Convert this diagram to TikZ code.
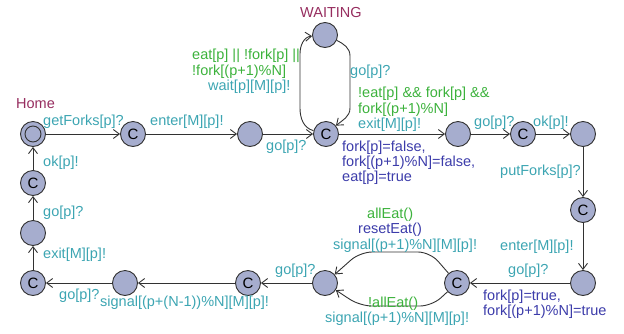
\documentclass[tikz,border=0pt]{standalone}
\usepackage{fontspec}
\setmainfont{Liberation Sans}
\usetikzlibrary{arrows.meta}
\definecolor{locfill}{RGB}{166,173,206}
\definecolor{locname}{RGB}{150,45,95}
\definecolor{synccol}{RGB}{60,165,178}
\definecolor{guardcol}{RGB}{60,178,60}
\definecolor{updcol}{RGB}{60,60,170}
\definecolor{edgecol}{RGB}{50,50,50}
\tikzset{
  loc/.style={circle,draw=edgecol,fill=locfill,line width=0.9pt,minimum size=25pt,inner sep=0pt},
  commit/.style={loc,font=\fontsize{15}{15}\selectfont},
  edge/.style={draw=edgecol,line width=0.9pt,-{Straight Barb[length=6pt,width=9pt,line width=0.9pt]}},
  lbl/.style={anchor=base west,inner sep=0pt,font=\fontsize{14.5}{16}\selectfont},
  sync/.style={lbl,text=synccol},
  guard/.style={lbl,text=guardcol},
  upd/.style={lbl,text=updcol,align=left},
  locnamelbl/.style={lbl,text=locname}
}
\begin{document}
\begin{tikzpicture}[x=1pt,y=-1pt]
\useasboundingbox (0,0) rectangle (624,333);

% locations
\node[loc] (home) at (33,134) {};
\draw[edgecol,line width=0.9pt] (home.center) circle (8pt);
\node[commit] (c1) at (133,134) {C};
\node[loc] (s2) at (250,134) {};
\node[commit] (c3) at (326,134) {C};
\node[loc] (wait) at (325,35) {};
\node[loc] (s4) at (458,134) {};
\node[commit] (c5) at (523,134) {C};
\node[loc] (s6) at (583,134) {};
\node[commit] (c7) at (583,210) {C};
\node[loc] (s8) at (583,283) {};
\node[commit] (c9) at (457,283) {C};
\node[loc] (s10) at (325,283) {};
\node[commit] (c11) at (248,283) {C};
\node[loc] (s12) at (125,283) {};
\node[commit] (c13) at (33,283) {C};
\node[loc] (s14) at (33,233) {};
\node[commit] (c15) at (33,183) {C};

% location names
\node[locnamelbl] (nhome) at (16,108) {Home};
\node[locnamelbl] (nwait) at (300,17) {WAITING};

% bend points of the curved edges
\coordinate (wl1) at (300,108);
\coordinate (wl2) at (300,54);
\coordinate (wr1) at (350,56);
\coordinate (wr2) at (350,108);
\coordinate (bu1) at (430,252);
\coordinate (bu2) at (360,252);
\coordinate (bl1) at (432,306);
\coordinate (bl2) at (360,306);

% edges
\draw[edge] (home) -- (c1);
\draw[edge] (c1) -- (s2);
\draw[edge] (s2) -- (c3);
\draw[edge] (c3) to[out=165,in=-90] (wl1) -- (wl2) to[out=90,in=185] (wait);
\draw[edge] (wait) to[out=-25,in=90] (wr1) -- (wr2) to[out=-90,in=40] (c3);
\draw[edge] (c3) -- (s4);
\draw[edge] (s4) -- (c5);
\draw[edge] (c5) -- (s6);
\draw[edge] (s6) -- (c7);
\draw[edge] (c7) -- (s8);
\draw[edge] (s8) -- (c9);
\draw[edge,rounded corners=12pt] (c9) -- (bu1) -- (bu2) -- (s10);
\draw[edge,rounded corners=12pt] (c9) -- (bl1) -- (bl2) -- (s10);
\draw[edge] (s10) -- (c11);
\draw[edge] (c11) -- (s12);
\draw[edge] (s12) -- (c13);
\draw[edge] (c13) -- (s14);
\draw[edge] (s14) -- (c15);
\draw[edge] (c15) -- (home);

% edge labels
\node[sync] (l1) at (43,125) {getForks[p]?};
\node[sync] (l2) at (150,125) {enter[M][p]!};
\node[sync] (l3) at (266,150) {go[p]?};
\node[guard] (l4a) at (192,59) {eat[p] || !fork[p] ||};
\node[guard] (l4b) at (192,75) {!fork[(p+1)\%N]};
\node[sync] (l4c) at (208,90) {wait[p][M][p]!};
\node[sync] (l5) at (350,75) {go[p]?};
\node[guard] (l6a) at (358,97) {!eat[p] \&\& fork[p] \&\&};
\node[guard] (l6b) at (358,113) {fork[(p+1)\%N]};
\node[sync] (l6c) at (358,128) {exit[M][p]!};
\node[upd] (l6d) at (342,151) {fork[p]=false,};
\node[upd] (l6e) at (342,166) {fork[(p+1)\%N]=false,};
\node[upd] (l6f) at (342,181) {eat[p]=true};
\node[sync] (l7) at (474,126) {go[p]?};
\node[sync] (l8) at (533,126) {ok[p]!};
\node[sync] (l9) at (500,175) {putForks[p]?};
\node[sync] (l10) at (500,250) {enter[M][p]!};
\node[sync] (l11) at (508,274) {go[p]?};
\node[upd] (l11a) at (483,300) {fork[p]=true,};
\node[upd] (l11b) at (483,315) {fork[(p+1)\%N]=true};
\node[guard] (l12a) at (367,218) {allEat()};
\node[upd] (l12b) at (358,233) {resetEat()};
\node[sync] (l12c) at (333,249) {signal[(p+1)\%N][M][p]!};
\node[guard] (l13a) at (368,307) {!allEat()};
\node[sync] (l13b) at (325,322) {signal[(p+1)\%N][M][p]!};
\node[sync] (l14) at (275,274) {go[p]?};
\node[sync] (l15) at (100,306) {signal[(p+(N-1))\%N][M][p]!};
\node[sync] (l16) at (59,299) {go[p]?};
\node[sync] (l17) at (43,258) {exit[M][p]!};
\node[sync] (l18) at (43,216) {go[p]?};
\node[sync] (l19) at (43,166) {ok[p]!};
\end{tikzpicture}
\end{document}
